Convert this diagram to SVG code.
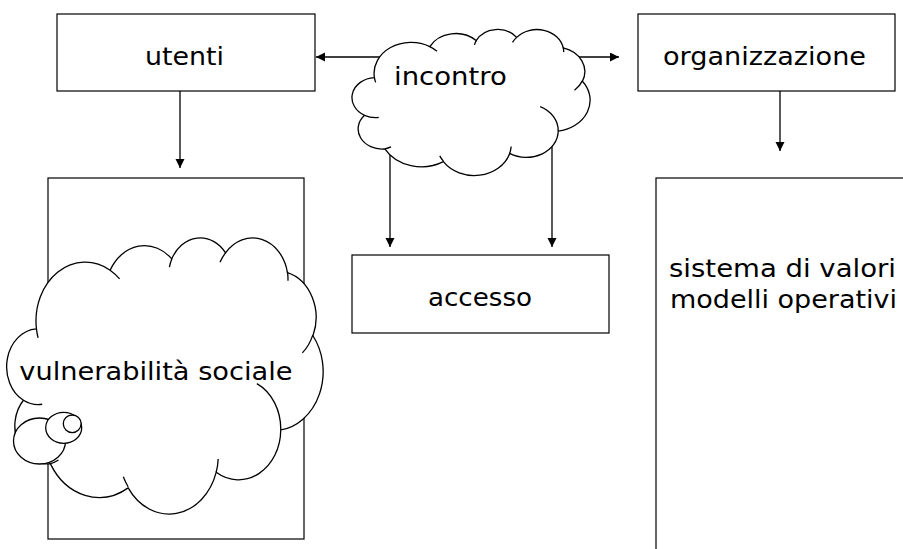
<svg xmlns="http://www.w3.org/2000/svg" width="903" height="549" viewBox="0 0 903 549">
<defs>
<style>
.box{fill:#fff;stroke:#000;stroke-width:1.2}
.cloud{fill:#fff;stroke:#000;stroke-width:1.3}
.inner{fill:none;stroke:#000;stroke-width:1.3}
.conn{stroke:#000;stroke-width:1.3;fill:none;marker-end:url(#ah)}
.t{font-family:"DejaVu Sans",Verdana,sans-serif;font-size:24.5px;fill:#000}
</style>
<marker id="ah" markerUnits="userSpaceOnUse" markerWidth="10" markerHeight="10" refX="9" refY="4.5" orient="auto">
<path d="M0,0 L9,4.5 L0,9 Z" fill="#000"/>
</marker>
</defs>
<rect width="903" height="549" fill="#fff"/>
<g id="connectors">
<line class="conn" x1="180" y1="91" x2="180" y2="168"/>
<line class="conn" x1="381" y1="57" x2="316" y2="57"/>
<line class="conn" x1="578" y1="57" x2="619" y2="57"/>
<line class="conn" x1="780" y1="91" x2="780" y2="151"/>
<line class="conn" x1="390" y1="150" x2="390" y2="247"/>
<line class="conn" x1="552" y1="145" x2="552" y2="247"/>
</g>
<g id="utenti">
<rect class="box" x="57" y="14" width="258" height="77"/>
<text class="t" x="145" y="64.5" textLength="79" lengthAdjust="spacingAndGlyphs">utenti</text>
</g>
<g id="organizzazione">
<rect class="box" x="638" y="14" width="257" height="77"/>
<text class="t" x="663" y="65" textLength="203" lengthAdjust="spacingAndGlyphs">organizzazione</text>
</g>
<g id="accesso">
<rect class="box" x="352" y="255" width="257" height="78"/>
<text class="t" x="428" y="306" textLength="104" lengthAdjust="spacingAndGlyphs">accesso</text>
</g>
<g id="sistema">
<rect class="box" x="656" y="178" width="260" height="390"/>
<text class="t" x="669" y="276.5" textLength="227" lengthAdjust="spacingAndGlyphs">sistema di valori</text>
<text class="t" x="670" y="308" textLength="227" lengthAdjust="spacingAndGlyphs">modelli operativi</text>
</g>
<g id="utenti-box">
<rect class="box" x="48" y="178" width="256" height="361"/>
</g>
<g id="vulnerabilita">
<path class="cloud" d="M36.44,328.81 A49.24,58.71 0 0 1 110.13,270.24 A38.89,46.43 0 0 1 171.75,258.93 A31.83,37.98 0 0 1 225.54,252.86 A35.42,42.13 0 0 1 287.42,272.63 A38.89,46.47 0 0 1 312.94,335.77 A49.40,58.91 0 0 1 280.75,429.96 A42.18,50.26 0 0 1 216.23,472.19 A49.23,58.87 0 0 1 128.18,487.86 A56.29,67.36 0 0 1 50.33,463.62 A31.79,37.81 0 0 1 23.41,400.23 A31.68,37.98 0 0 1 36.44,328.81 Z"/>
<ellipse class="cloud" cx="39.5" cy="441" rx="26" ry="23"/>
<ellipse class="cloud" cx="63.7" cy="427.8" rx="18" ry="15.5"/>
<ellipse class="cloud" cx="72.2" cy="423.8" rx="8.9" ry="8.8"/>
<path class="inner" d="M42.22,404.24 A31.68,37.98 0 0 1 23.41,400.23 M58.52,459.97 A31.79,37.81 0 0 1 50.33,463.62 M128.15,486.74 A49.23,58.87 0 0 1 123.31,476.74 M218.20,459.02 A49.23,58.87 0 0 1 216.23,472.19 M256.86,383.65 A42.18,50.26 0 0 1 280.75,429.96 M312.78,335.10 A38.89,46.47 0 0 1 302.38,352.87 M287.45,271.67 A35.42,42.13 0 0 1 287.98,280.70 M220.03,262.25 A35.42,42.13 0 0 1 225.54,252.86 M169.44,267.16 A31.83,37.98 0 0 1 171.75,258.93 M110.08,270.17 A49.24,58.71 0 0 1 119.61,278.87 M38.09,337.88 A49.24,58.71 0 0 1 36.44,328.81"/>
<text class="t" x="19.3" y="380" textLength="273.3" lengthAdjust="spacingAndGlyphs">vulnerabilità sociale</text>
</g>
<g id="incontro">
<path class="cloud" d="M374.40,77.57 A37.05,31.06 0 0 1 429.84,46.58 A29.26,24.56 0 0 1 476.20,40.60 A23.95,20.09 0 0 1 516.67,37.39 A26.65,22.29 0 0 1 563.23,47.85 A29.26,24.58 0 0 1 582.43,81.25 A37.17,31.16 0 0 1 558.21,131.07 A31.74,26.59 0 0 1 509.67,153.41 A37.04,31.14 0 0 1 443.42,161.70 A42.35,35.63 0 0 1 384.85,148.88 A23.92,20.00 0 0 1 364.59,115.35 A23.84,20.09 0 0 1 374.40,77.57 Z"/>
<path class="inner" d="M378.75,117.47 A23.84,20.09 0 0 1 364.59,115.35 M391.01,146.95 A23.92,20.00 0 0 1 384.85,148.88 M443.40,161.11 A37.04,31.14 0 0 1 439.76,155.82 M511.15,146.45 A37.04,31.14 0 0 1 509.67,153.41 M540.23,106.58 A31.74,26.59 0 0 1 558.21,131.07 M582.31,80.89 A29.26,24.58 0 0 1 574.49,90.29 M563.25,47.34 A26.65,22.29 0 0 1 563.65,52.12 M512.52,42.36 A26.65,22.29 0 0 1 516.67,37.39 M474.47,44.95 A23.95,20.09 0 0 1 476.20,40.60 M429.80,46.55 A37.05,31.06 0 0 1 436.98,51.15 M375.64,82.36 A37.05,31.06 0 0 1 374.40,77.57"/>
<text class="t" x="394" y="84.5" textLength="112.7" lengthAdjust="spacingAndGlyphs">incontro</text>
</g>
</svg>
